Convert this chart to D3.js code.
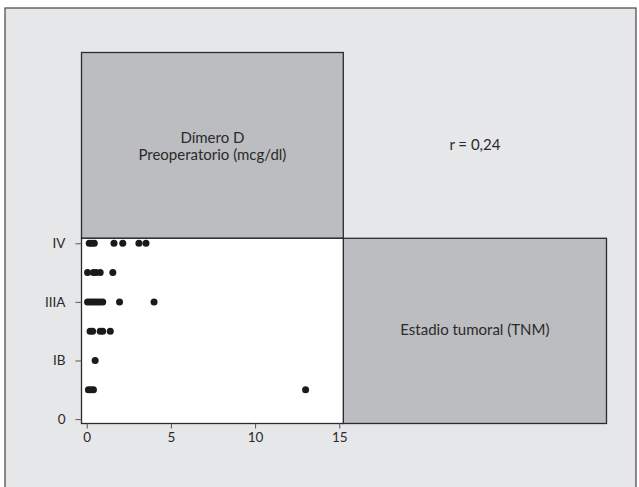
<!DOCTYPE html>
<html>
<head>
<meta charset="utf-8">
<script src="https://cdn.jsdelivr.net/npm/d3@7"></script>
<style>
  html, body { margin: 0; padding: 0; background: #fff; }
  svg { display: block; font-family: Lato, "Open Sans", sans-serif; }
</style>
</head>
<body>
<svg id="chart" width="639" height="487"></svg>
<script>
// stage levels on the y axis (index = position)
const stages = ["0", "IA", "IB", "II", "IIIA", "IIIB", "IV"];
const stageTicks = ["0", "IB", "IIIA", "IV"];
const xTicks = [0, 5, 10, 15];

// D-dimer values (mcg/dl) read per stage
const dimerIA = [0.1, 0.25, 0.4, 13.0];
const dimerIB = [0.5];
const dimerII = [0.2, 0.35, 0.8, 0.95, 1.4];
const dimerIIIA = [0.05, 0.2, 0.35, 0.5, 0.65, 0.8, 0.95, 1.95, 4.0];
const dimerIIIB = [0.05, 0.4, 0.55, 0.8, 1.55];
const dimerIV = [0.15, 0.3, 0.45, 1.62, 2.14, 3.1, 3.52];

const points = [
  ...dimerIA.map((v) => ({ stage: "IA", value: v })),
  ...dimerIB.map((v) => ({ stage: "IB", value: v })),
  ...dimerII.map((v) => ({ stage: "II", value: v })),
  ...dimerIIIA.map((v) => ({ stage: "IIIA", value: v })),
  ...dimerIIIB.map((v) => ({ stage: "IIIB", value: v })),
  ...dimerIV.map((v) => ({ stage: "IV", value: v })),
];

const xLabel = ["Dímero D", "Preoperatorio (mcg/dl)"];
const yLabel = "Estadio tumoral (TNM)";
const corrLabel = "r = 0,24";

const svg = d3.select("#chart");
const bg = "#e6e7e9";
const panelGray = "#bcbdc0";
const edge = "#2b2b2b";

// outer frame
svg.append("rect")
  .attr("x", 5).attr("y", 8).attr("width", 631).attr("height", 490)
  .attr("fill", bg).attr("stroke", "#444").attr("stroke-width", 1.2);

const panelLeft = 81.5, panelMid = 343.3, panelRight = 606.5;
const panelTop = 52.5, panelMiddle = 238.3, panelBottom = 423.5;

const x = d3.scaleLinear().domain([-0.31, 15.24]).range([panelLeft, panelMid]);
const y = d3.scaleLinear().domain([-0.15, 6.17]).range([panelBottom, panelMiddle]);

// panels
svg.append("rect")
  .attr("x", panelLeft).attr("y", panelTop)
  .attr("width", panelMid - panelLeft).attr("height", panelMiddle - panelTop)
  .attr("fill", panelGray).attr("stroke", edge).attr("stroke-width", 1.3);
svg.append("rect")
  .attr("x", panelMid).attr("y", panelMiddle)
  .attr("width", panelRight - panelMid).attr("height", panelBottom - panelMiddle)
  .attr("fill", panelGray).attr("stroke", edge).attr("stroke-width", 1.3);
svg.append("rect")
  .attr("x", panelLeft).attr("y", panelMiddle)
  .attr("width", panelMid - panelLeft).attr("height", panelBottom - panelMiddle)
  .attr("fill", "#fff").attr("stroke", edge).attr("stroke-width", 1.3);

// axes
const xAxis = svg.append("g")
  .attr("transform", `translate(0,${panelBottom})`)
  .call(d3.axisBottom(x).tickValues(xTicks).tickSize(5).tickPadding(4));
const yAxis = svg.append("g")
  .attr("transform", `translate(${panelLeft},0)`)
  .call(d3.axisLeft(y)
    .tickValues(stageTicks.map((s) => stages.indexOf(s)))
    .tickFormat((i) => stages[i])
    .tickSize(6).tickPadding(10));
[xAxis, yAxis].forEach((g) => {
  g.select(".domain").remove();
  g.selectAll("line").attr("stroke", "#555");
  g.selectAll("text").attr("fill", "#2a2a2a").style("font-size", "13.5px")
    .style("font-family", "Lato, 'Open Sans', sans-serif");
});

// points
svg.append("g").selectAll("circle")
  .data(points)
  .join("circle")
  .attr("cx", (d) => x(d.value))
  .attr("cy", (d) => y(stages.indexOf(d.stage)))
  .attr("r", 3.5)
  .attr("fill", "#1a1a1a");

// labels
const labelStyle = (t) => t.attr("fill", "#2a2a2a").attr("text-anchor", "middle").style("font-size", "15px");
svg.append("text").attr("x", (panelLeft + panelMid) / 2).attr("y", 143).text(xLabel[0]).call(labelStyle);
svg.append("text").attr("x", (panelLeft + panelMid) / 2).attr("y", 160).text(xLabel[1]).call(labelStyle);
svg.append("text").attr("x", (panelMid + panelRight) / 2).attr("y", 150).text(corrLabel).call(labelStyle);
svg.append("text").attr("x", (panelMid + panelRight) / 2).attr("y", 335).text(yLabel).call(labelStyle);
</script>
</body>
</html>
